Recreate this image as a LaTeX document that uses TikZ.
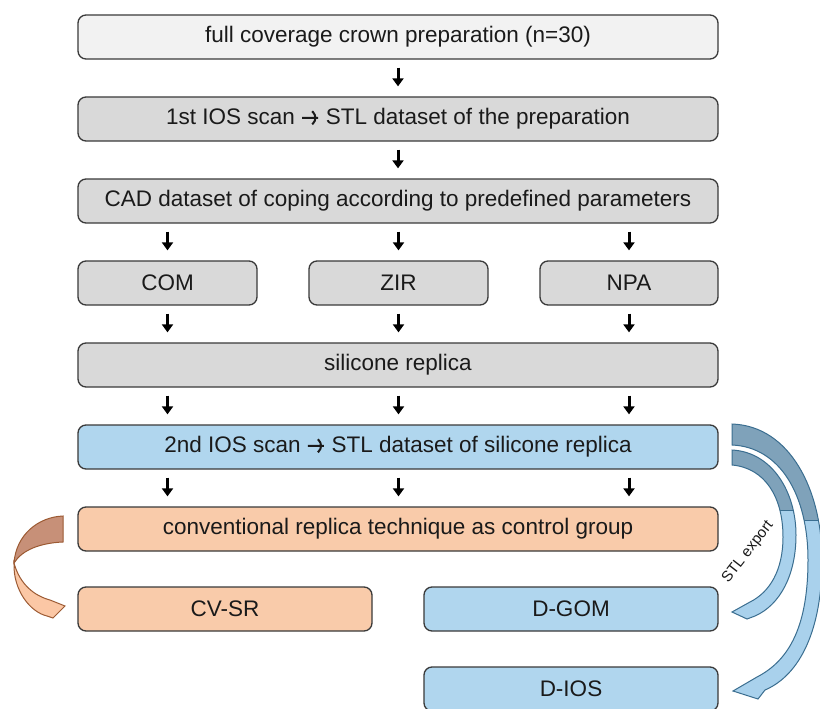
\documentclass[tikz,border=0pt]{standalone}
\usepackage{fontspec}
\setmainfont{Liberation Sans}
\usetikzlibrary{arrows.meta}
\definecolor{boxline}{HTML}{3A3A3A}
\definecolor{txt}{HTML}{1A1A1A}
\definecolor{lightfill}{HTML}{F2F2F2}
\definecolor{grayfill}{HTML}{D9D9D9}
\definecolor{bluefill}{HTML}{B0D6EE}
\definecolor{salmonfill}{HTML}{F9CBAA}
\definecolor{ribdark}{HTML}{7FA2BA}
\definecolor{riblight}{HTML}{A9D1EC}
\definecolor{ribline}{HTML}{3B6E90}
\definecolor{brdark}{HTML}{C79078}
\definecolor{brlight}{HTML}{FBC7A5}
\definecolor{brline}{HTML}{9C5A33}
\newcommand\myrarrow{\tikz[baseline=-7pt]\draw[line width=2pt, line join=miter, line cap=butt]
  (0pt,0pt) -- (16pt,0pt) (10pt,6.5pt) -- (16.5pt,0pt) -- (10pt,-6.5pt);}
\begin{document}
\begin{tikzpicture}[x=1pt,y=-1pt,
  box/.style={draw=boxline, line width=1.3pt, rounded corners=8pt, minimum height=44pt,
    inner sep=0pt, text=txt, font=\fontsize{22.5}{27}\selectfont},
  wbox/.style={box, fill=lightfill},
  gbox/.style={box, fill=grayfill},
  bbox/.style={box, fill=bluefill},
  sbox/.style={box, fill=salmonfill},
  arr/.style={line width=3pt, -{Triangle[width=11pt,length=8pt]}},
  ribstroke/.style={draw=ribline, line width=1pt},
  brstroke/.style={draw=brline, line width=1pt}]
\useasboundingbox (0,0) rectangle (820,709);
\fill[white] (0,0) rectangle (820,709);

% boxes
\node[wbox, minimum width=640pt] (prep) at (398,37) {full coverage crown preparation (n=30)};
\node[gbox, minimum width=640pt] (ios1) at (398,119) {1st IOS scan \myrarrow{} STL dataset of the preparation};
\node[gbox, minimum width=640pt] (cad) at (398,201) {CAD dataset of coping according to predefined parameters};
\node[gbox, minimum width=179pt] (com) at (167.5,283) {COM};
\node[gbox, minimum width=179pt] (zir) at (398.5,283) {ZIR};
\node[gbox, minimum width=178pt] (npa) at (629,283) {NPA};
\node[gbox, minimum width=640pt] (sil) at (398,365) {silicone replica};
\node[bbox, minimum width=640pt] (ios2) at (398,447) {2nd IOS scan \myrarrow{} STL dataset of silicone replica};
\node[sbox, minimum width=640pt] (conv) at (398,529) {conventional replica technique as control group};
\node[sbox, minimum width=294pt] (cvsr) at (225,609) {CV-SR};
\node[bbox, minimum width=294pt] (dgom) at (571,609) {D-GOM};
\node[bbox, minimum width=294pt] (dios) at (571,689) {D-IOS};

% straight arrows
\draw[arr] ([yshift=-8pt]prep.south) -- ([yshift=10pt]ios1.north);
\draw[arr] ([yshift=-8pt]ios1.south) -- ([yshift=10pt]cad.north);
\foreach \c in {com,zir,npa}{
  \draw[arr] ([yshift=-8pt]cad.south -| \c) -- ([yshift=10pt]\c.north);
  \draw[arr] ([yshift=-8pt]\c.south) -- ([yshift=10pt]sil.north -| \c);
  \draw[arr] ([yshift=-8pt]sil.south -| \c) -- ([yshift=10pt]ios2.north -| \c);
  \draw[arr] ([yshift=-8pt]ios2.south -| \c) -- ([yshift=10pt]conv.north -| \c);
}

% right ribbon to D-IOS (outer)
\path[save path=\ribA] (732,424) .. controls (790,426) and (822,490) .. (822,560)
  .. controls (822,630) and (800,675) .. (765,690) -- (758,699) -- (733,691) -- (757,677)
  .. controls (790,660) and (808,625) .. (808,560)
  .. controls (808,495) and (780,447) .. (732,445) -- cycle;
\fill[riblight, use path=\ribA];
\begin{scope}
  \clip (700,400) rectangle (830,520);
  \fill[ribdark, use path=\ribA];
\end{scope}
\begin{scope}
  \clip[use path=\ribA];
  \draw[ribline, line width=1pt] (700,520) -- (830,520);
\end{scope}
\draw[ribstroke, use path=\ribA];

% right ribbon to D-GOM (inner)
\path[save path=\ribB] (732,450) .. controls (772,452) and (796,492) .. (796,535)
  .. controls (796,575) and (780,605) .. (755,616) -- (747,619) -- (732,612) -- (750,602)
  .. controls (770,592) and (783,570) .. (783,537)
  .. controls (783,497) and (765,468) .. (732,465) -- cycle;
\fill[riblight, use path=\ribB];
\begin{scope}
  \clip (700,400) rectangle (830,510);
  \fill[ribdark, use path=\ribB];
\end{scope}
\begin{scope}
  \clip[use path=\ribB];
  \draw[ribline, line width=1pt] (700,510) -- (830,510);
\end{scope}
\draw[ribstroke, use path=\ribB];

% left ribbon to CV-SR
\draw[brstroke, fill=brlight] (14,563) .. controls (13,590) and (30,612) .. (47,616)
  -- (53,618) -- (65,606) -- (50,600) .. controls (35,596) and (20,585) .. (14,563) -- cycle;
\draw[brstroke, fill=brdark] (63,516) .. controls (38,517) and (16,535) .. (14,563)
  .. controls (22,550) and (40,543) .. (63,542) -- cycle;

% label
\node[rotate=52, text=txt, font=\fontsize{15}{18}\selectfont] (stl) at (748,552) {STL export};
\end{tikzpicture}
\end{document}
